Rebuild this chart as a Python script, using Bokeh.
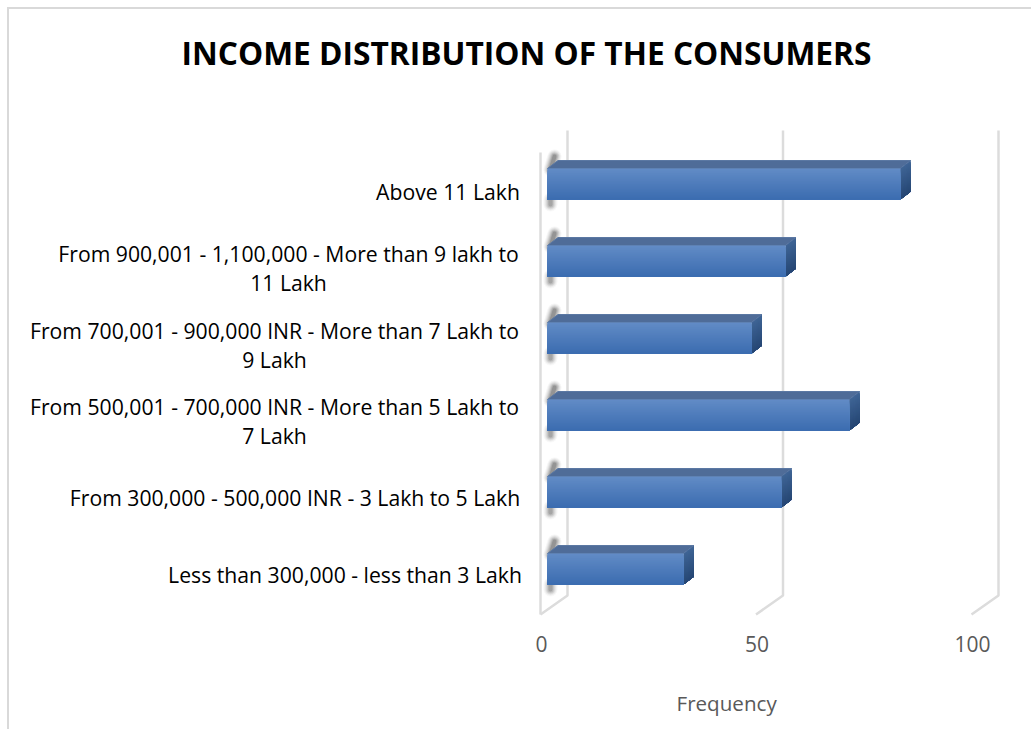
from bokeh.plotting import figure
from bokeh.models import Range1d, LinearAxis, FixedTicker, ColumnDataSource, Title
from bokeh.core.properties import value
from bokeh.embed import file_html
from bokeh.resources import INLINE

title_text = "INCOME DISTRIBUTION OF THE CONSUMERS"
axis_title = "Frequency"
categories = [
    ["Less than 300,000 - less than 3 Lakh"],
    ["From 300,000 - 500,000 INR - 3 Lakh to 5 Lakh"],
    ["From 500,001 - 700,000 INR - More than 5 Lakh to", "7 Lakh"],
    ["From 700,001 - 900,000 INR - More than 7 Lakh to", "9 Lakh"],
    ["From 900,001 - 1,100,000 - More than 9 lakh to", "11 Lakh"],
    ["Above 11 Lakh"],
]
frequency = [32, 55, 71, 48, 56, 83]
axis_ticks = [0, 50, 100]

FONT = "Open Sans"
# geometry (page pixels)
W, H = 1031, 729
PX, PY = 4.25, 77.0          # px per value, px per category
X0, Y0 = 547.0, 568.5        # value 0, first category
FX0, FPX = 540.0, 4.31       # front plane of the walls
L, R, T, B = 0.0, float(W), 76.0, 623.0
DX, DY = 10.5, 8.0           # bar depth
HALF = 15.5

p = figure(width=W, height=H, output_backend="svg", toolbar_location=None,
           x_axis_location=None, y_axis_location=None,
           x_range=Range1d((L - X0) / PX, (R - X0) / PX),
           y_range=Range1d((Y0 - B) / PY, (Y0 - T) / PY),
           min_border_left=0, min_border_right=0, min_border_top=int(T),
           min_border_bottom=int(H - B), outline_line_color=None,
           background_fill_color=None, border_fill_color=None)
p.grid.visible = False
# chart-area border: only its top and left edges fall inside the picture
p.styles = {
    "background-image": "linear-gradient(#d9d9d9,#d9d9d9),linear-gradient(#d9d9d9,#d9d9d9)",
    "background-size": "100% 2px,2px 100%",
    "background-position": "7px 7px,7px 7px",
    "background-repeat": "no-repeat",
}
p.extra_x_ranges = {"front": Range1d((L - FX0) / FPX, (R - FX0) / FPX),
                    "ticks": Range1d((L - FX0 - 1) / FPX, (R - FX0 - 1) / FPX)}

# the no-break space only reserves room between the tick labels and the axis title
xa = LinearAxis(x_range_name="ticks", ticker=FixedTicker(ticks=axis_ticks),
                axis_line_color=None, major_tick_line_color=None, minor_tick_line_color=None,
                major_label_text_font=FONT, major_label_text_font_size="21px",
                major_label_text_color="#595959", major_label_standoff=6,
                axis_label="\u00a0", axis_label_standoff=6, axis_label_text_font_size="10px")
p.add_layout(xa, "below")

p.title.text = title_text
p.title.align = "left"
p.title.text_font = FONT
p.title.text_font_size = "31.7px"
p.title.text_font_style = "bold"
p.title.text_color = "black"
p.title.offset = 181
p.title.standoff = 6

p.add_layout(Title(text=axis_title, align="left", offset=676, standoff=24, text_font=FONT,
                   text_font_size="20.6px", text_font_style="normal", text_color="#595959"), "below")


def bx(v, off=0.0):
    return v + off / PX


def by(i, off=0.0):
    return i - off / PY


# walls
WALL = "#dcdcdc"
for t in axis_ticks:
    back = t + 27 / FPX
    p.line([back, back, t], [by(5, -53.5), by(0, 26.5), by(0, 45.5)], x_range_name="front",
           line_color=WALL, line_width=2.5)
p.line([0, 0], [by(5, -31.5), by(0, 45.5)], x_range_name="front", line_color=WALL, line_width=2.5)

# bars
N = int(2 * HALF)
SHADE = [(14, .04), (12, .06), (10, .08), (8, .11), (6, .14), (4, .18)]
for i, v in enumerate(frequency):
    # soft shadow at the base
    for w, a in SHADE:
        p.line([bx(0, 3), bx(0, 7)], [by(i, -HALF + 1), by(i, -HALF - 12)],
               line_color="#202020", line_alpha=a, line_width=w, line_cap="round")
        p.line([bx(0, 3), bx(0, 3)], [by(i, HALF), by(i, HALF + 5)],
               line_color="#202020", line_alpha=a * .8, line_width=w, line_cap="round")
    # top face
    p.patch([bx(0), bx(v), bx(v, DX), bx(0, DX)],
            [by(i, -HALF), by(i, -HALF), by(i, -HALF - DY), by(i, -HALF - DY)],
            fill_color="#4f6c98", fill_alpha=1, line_color="#5b78a3", line_width=1)
    # side face: painted top to bottom so no seams appear
    for s in range(N):
        a0 = s / N
        c = (int(64 - 26 * a0), int(101 - 30 * a0), int(150 - 34 * a0))
        p.patch([bx(v), bx(v, DX), bx(v, DX), bx(v)],
                [by(i, -HALF + 2 * HALF * a0), by(i, -HALF - DY + 2 * HALF * a0),
                 by(i, HALF - DY), by(i, HALF)],
                fill_color=c, fill_alpha=1, line_color=None)
    # front face gradient, painted the same way
    for s in range(N):
        a0 = s / N
        c = (int(98 - 39 * a0), int(139 - 30 * a0), int(198 - 22 * a0))
        p.quad(left=[bx(0)], right=[bx(v)], top=[by(i, -HALF + 2 * HALF * a0)],
               bottom=[by(i, HALF)], fill_color=c, fill_alpha=1, line_color=None)

# category labels, centred as a block
centres = [344.5, 294.5, 274.0, 274.0, 288.0, 447.5]
rows = dict(x=[], y=[], t=[], o=[])
for i, (lines, c) in enumerate(zip(categories, centres)):
    for j, s in enumerate(lines):
        rows["x"].append((c - X0) / PX)
        rows["y"].append(i)
        rows["t"].append(s)
        rows["o"].append(7.5 - 0.4 * (5 - i) + (j - (len(lines) - 1) / 2) * 29)
p.text("x", "y", "t", y_offset="o", source=ColumnDataSource(rows), text_font=value(FONT),
       text_font_size=value("21.2px"), text_color="black", text_align="center",
       text_baseline="middle")

open("out.html", "w").write(file_html(p, INLINE))
